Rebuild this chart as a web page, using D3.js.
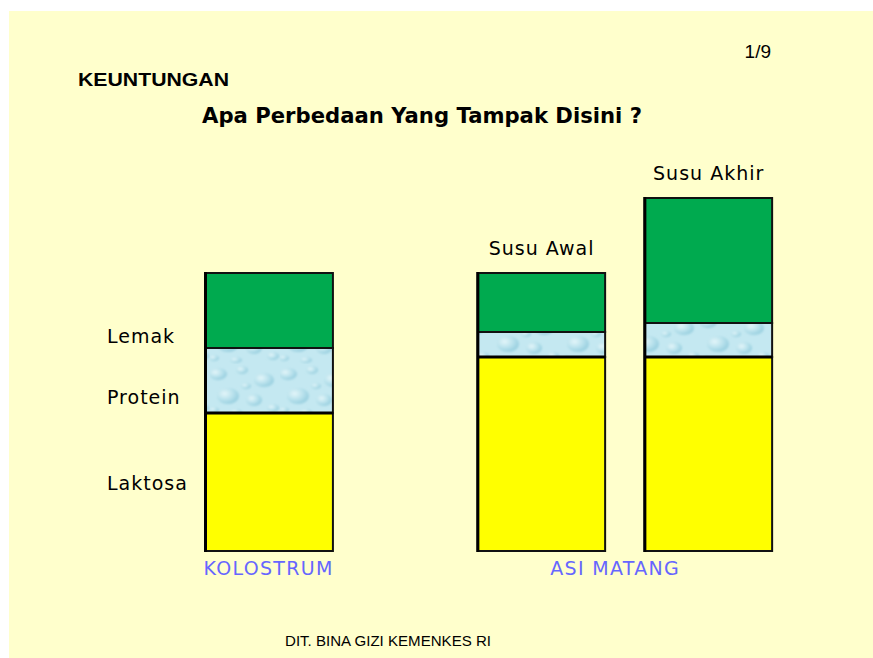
<!DOCTYPE html>
<html>
<head>
<meta charset="utf-8">
<script src="https://cdn.jsdelivr.net/npm/d3@7"></script>
<style>
  body { margin: 0; background: #fff; }
  svg { display: block; }
</style>
</head>
<body>
<svg width="873" height="658"></svg>
<script>
// bar data (heights in arbitrary units, stacked bottom -> top)
const bars = ['Kolostrum', 'Susu Awal', 'Susu Akhir'];
const barSlot = [0, 1.63, 2.63];          // horizontal slot of each bar
const barTitle = ['', 'Susu Awal', 'Susu Akhir'];
const laktosa = [138, 194, 194];
const protein = [65, 25, 34];
const lemak = [75, 59, 125];

const groups = ['KOLOSTRUM', 'ASI MATANG'];
const groupSlot = [0.375, 2.45];          // centre slot of group label

const layers = ['Laktosa', 'Protein', 'Lemak'];
const layerLabelAt = [68, 154, 215];      // y (data units) of the left-side labels

var svg = d3.select('svg');

// page background
svg.append('rect')
    .attr('x', 9).attr('y', 11)
    .attr('width', 864).attr('height', 647)
    .attr('fill', '#ffffcc');

// water texture for the protein band
var defs = svg.append('defs');
var grad = defs.append('radialGradient').attr('id', 'drop')
    .attr('cx', '35%').attr('cy', '35%').attr('r', '65%');
grad.append('stop').attr('offset', '0%').attr('stop-color', '#eefafc');
grad.append('stop').attr('offset', '60%').attr('stop-color', '#b4dfea');
grad.append('stop').attr('offset', '100%').attr('stop-color', '#8cc8da');

var blur = defs.append('filter').attr('id', 'soft');
blur.append('feGaussianBlur').attr('stdDeviation', 1.2);

var pat = defs.append('pattern').attr('id', 'water')
    .attr('patternUnits', 'userSpaceOnUse')
    .attr('width', 70).attr('height', 52);
pat.append('rect').attr('width', 70).attr('height', 52).attr('fill', '#c4e8f1');
var dropG = pat.append('g').attr('filter', 'url(#soft)');
[[8, 10, 9, 6], [32, 6, 6, 4], [54, 16, 10, 7], [18, 32, 11, 8], [44, 36, 8, 6],
 [63, 44, 6, 4], [4, 46, 5, 3], [36, 22, 5, 3], [26, 48, 6, 3]].forEach(function(d) {
    dropG.append('ellipse')
        .attr('cx', d[0]).attr('cy', d[1]).attr('rx', d[2]).attr('ry', d[3])
        .attr('fill', 'url(#drop)').attr('opacity', 0.75);
});

// scales
var xScale = d3.scaleLinear().domain([0, 1]).range([206, 373]);
var barWidth = xScale(0.76) - xScale(0);
var yScale = d3.scaleLinear().domain([0, 400]).range([551, 151]);

var fills = ['#ffff00', 'url(#water)', '#00aa4f'];
var series = [laktosa, protein, lemak];

var stacked = bars.map(function(b, i) {
    var y0 = 0;
    return series.map(function(s, k) {
        var seg = { bar: i, layer: k, y0: y0, y1: y0 + s[i] };
        y0 += s[i];
        return seg;
    });
});

var barG = svg.append('g').selectAll('g')
    .data(stacked)
    .join('g');

barG.selectAll('rect')
    .data(function(d) { return d; })
    .join('rect')
    .attr('x', function(d) { return xScale(barSlot[d.bar]); })
    .attr('y', function(d) { return yScale(d.y1); })
    .attr('width', barWidth)
    .attr('height', function(d) { return yScale(d.y0) - yScale(d.y1); })
    .attr('fill', function(d) { return fills[d.layer]; })
    .attr('stroke', '#111')
    .attr('stroke-width', 2);

// thicker dividers on top of the laktosa block
barG.append('line')
    .attr('x1', function(d, i) { return xScale(barSlot[i]); })
    .attr('x2', function(d, i) { return xScale(barSlot[i]) + barWidth; })
    .attr('y1', function(d, i) { return yScale(laktosa[i]); })
    .attr('y2', function(d, i) { return yScale(laktosa[i]); })
    .attr('stroke', '#000')
    .attr('stroke-width', 3);

// heavier left edge
barG.append('line')
    .attr('x1', function(d, i) { return xScale(barSlot[i]) - 0.5; })
    .attr('x2', function(d, i) { return xScale(barSlot[i]) - 0.5; })
    .attr('y1', function(d, i) { return yScale(laktosa[i] + protein[i] + lemak[i]) - 1; })
    .attr('y2', yScale(0) + 1)
    .attr('stroke', '#000')
    .attr('stroke-width', 3);

// bar titles
var labelFont = '"DejaVu Sans", Verdana, sans-serif';
svg.append('g').selectAll('text')
    .data(bars.filter(function(b, i) { return barTitle[i]; }))
    .join('text')
    .attr('x', function(b) { var i = bars.indexOf(b); return xScale(barSlot[i]) + barWidth / 2; })
    .attr('y', function(b) { var i = bars.indexOf(b); return yScale(laktosa[i] + protein[i] + lemak[i]) - 18; })
    .attr('text-anchor', 'middle')
    .attr('font-family', labelFont)
    .attr('font-size', 19)
    .attr('letter-spacing', 1)
    .attr('fill', '#000')
    .text(function(b) { return barTitle[bars.indexOf(b)]; });

// layer labels on the left
svg.append('g').selectAll('text')
    .data(layers)
    .join('text')
    .attr('x', 107)
    .attr('y', function(d, i) { return yScale(layerLabelAt[i]) + 7; })
    .attr('font-family', labelFont)
    .attr('font-size', 19)
    .attr('letter-spacing', 1)
    .attr('fill', '#000')
    .text(function(d) { return d; });

// group labels
svg.append('g').selectAll('text')
    .data(groups)
    .join('text')
    .attr('x', function(d, i) { return xScale(groupSlot[i]); })
    .attr('y', 575)
    .attr('text-anchor', 'middle')
    .attr('font-family', labelFont)
    .attr('font-size', 19)
    .attr('letter-spacing', 1.3)
    .attr('fill', '#6666ff')
    .text(function(d) { return d; });

// headings
svg.append('text')
    .attr('x', 78).attr('y', 86)
    .attr('font-family', '"Liberation Sans", Arial, sans-serif')
    .attr('font-weight', 'bold')
    .attr('font-size', 18)
    .attr('textLength', 151)
    .attr('lengthAdjust', 'spacingAndGlyphs')
    .text('KEUNTUNGAN');

svg.append('text')
    .attr('x', 202).attr('y', 123)
    .attr('font-family', '"DejaVu Sans", Verdana, sans-serif')
    .attr('font-weight', 'bold')
    .attr('font-size', 21)
    .attr('textLength', 440)
    .attr('lengthAdjust', 'spacingAndGlyphs')
    .text('Apa Perbedaan Yang Tampak Disini ?');

svg.append('text')
    .attr('x', 771).attr('y', 58)
    .attr('text-anchor', 'end')
    .attr('font-family', '"Liberation Sans", Arial, sans-serif')
    .attr('font-size', 19)
    .text('1/9');

svg.append('text')
    .attr('x', 285).attr('y', 646)
    .attr('font-family', '"Liberation Sans", Arial, sans-serif')
    .attr('font-size', 14)
    .attr('textLength', 206)
    .attr('lengthAdjust', 'spacingAndGlyphs')
    .text('DIT.  BINA GIZI  KEMENKES RI');
</script>
</body>
</html>
